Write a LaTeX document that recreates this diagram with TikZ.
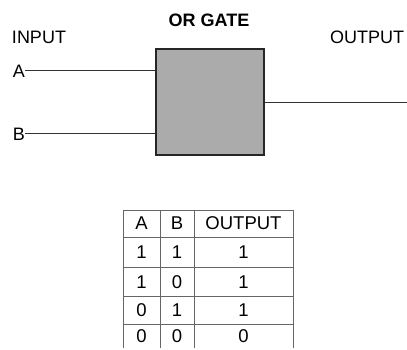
\documentclass[tikz,border=0pt]{standalone}
\usepackage{fontspec}
\setmainfont{Liberation Sans}
\usetikzlibrary{positioning,calc}
\begin{document}
\begin{tikzpicture}[
    x=1pt, y=-1pt,
    lbl/.style={font=\fontsize{18}{20}\selectfont, inner sep=0pt},
    headline/.style={font=\fontsize{18}{20}\selectfont\bfseries, inner sep=0pt},
    gatebox/.style={rectangle, draw=black!85, line width=1.6pt, fill=black!33, minimum width=108pt, minimum height=106pt, inner sep=0pt},
    wire/.style={line width=1pt, draw=black!80},
    cell/.style={font=\fontsize{18.5}{20}\selectfont, inner sep=0pt},
    rule/.style={line width=1pt, draw=black!60},
]
\useasboundingbox (0,0) rectangle (407,350);

% Titles
\node[headline] (title) at (209,20) {OR GATE};
\node[lbl] (input) at (39,37) {INPUT};
\node[lbl] (output) at (367,37) {OUTPUT};

% Gate
\node[gatebox] (gate) at (210,102) {};

% Input and output wires
\node[lbl] (inA) at (19,71) {A};
\node[lbl] (inB) at (19,134) {B};
\coordinate (outEnd) at (407,103);
\draw[wire] (inA.east) -- (inA.east -| gate.west);
\draw[wire] (inB.east) -- (inB.east -| gate.west);
\draw[wire] (gate.east |- outEnd) -- (outEnd);

% Truth table grid
\draw[rule] (123,348) -- (123,210) -- (293,210) -- (293,348);
\foreach \xx in {160,194}
    \draw[rule] (\xx,210) -- (\xx,348);
\foreach \yy in {237,267,296,324}
    \draw[rule] (123,\yy) -- (293,\yy);

% Truth table entries
\node[cell] (hA) at (141.5,223) {A};
\node[cell] (hB) at (177,223) {B};
\node[cell] (hOut) at (243.5,223) {OUTPUT};
\foreach \a/\b/\o/\yy [count=\r] in {1/1/1/252, 1/0/1/282, 0/1/1/310, 0/0/0/336} {
    \node[cell] (a\r) at (141.5,\yy) {\a};
    \node[cell] (b\r) at (177,\yy) {\b};
    \node[cell] (o\r) at (243.5,\yy) {\o};
}
\end{tikzpicture}
\end{document}
